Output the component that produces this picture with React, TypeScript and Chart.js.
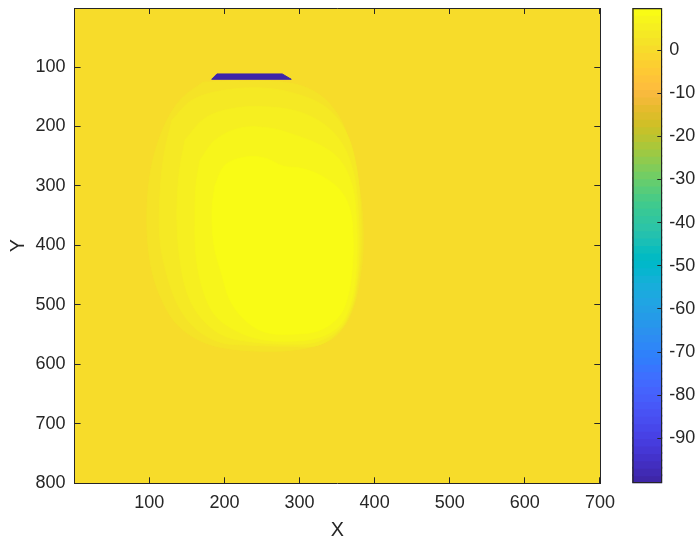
import React, { useEffect, useRef } from "react";
import { Chart, registerables } from "chart.js";

Chart.register(...registerables);

// ---------- axes ----------
const X_TICKS = [100, 200, 300, 400, 500, 600, 700];
const Y_TICKS = [100, 200, 300, 400, 500, 600, 700, 800];
const CB_TICKS = [-90, -80, -70, -60, -50, -40, -30, -20, -10, 0];
const X_RANGE = [0.5, 700.5];
const Y_RANGE = [0.5, 800.5];
const C_RANGE = [-100.4, 9.75];
const X_LABEL = "X";
const Y_LABEL = "Y";

// ---------- field values ----------
const BACKGROUND_VALUE = 0;
const FIELD_EXTENT: [number, number][] = [
  [0.5, 0.5], [700.5, 0.5], [700.5, 800.5], [0.5, 800.5], [0.5, 0.5],
];
// level values of the nested regions of the bright blob (outer -> inner)
const LEVEL_VALUES = [2, 3.7, 5.4, 7.1, 9];
const CONTOUR_L1: [number, number][] = [
  [171.5, 125.3], [220.8, 123.6], [287.4, 126.9], [327.3, 147.1], [353.9, 185.9],
  [367.3, 231.3], [376.6, 281.8], [383.3, 340.7], [384.6, 408.1], [379.3, 463.6],
  [372.6, 500.7], [360.6, 534.3], [340.6, 559.6], [300.7, 574.7], [247.4, 578.1],
  [194.1, 571.4], [160.9, 556.2], [134.2, 529.3], [116.9, 492.3], [104.9, 450.2],
  [98.3, 399.7], [96.9, 340.7], [100.9, 281.8], [110.3, 231.3], [124.9, 185.9],
  [143.5, 152.2],
];
const CONTOUR_L2: [number, number][] = [
  [130.2, 189.2], [156.9, 155.6], [200.8, 138.7], [254.1, 135.4], [300.7, 147.1],
  [336.6, 169.0], [360.6, 206.1], [373.9, 256.6], [380.6, 323.9], [381.9, 408.1],
  [376.6, 467.0], [369.9, 505.7], [353.9, 542.8], [324.6, 568.0], [280.7, 569.7],
  [234.1, 568.0], [194.1, 563.0], [160.9, 539.4], [138.2, 500.7], [123.6, 450.2],
  [114.2, 391.2], [114.2, 315.5], [119.6, 248.1],
];
const CONTOUR_L3: [number, number][] = [
  [147.5, 222.9], [174.2, 185.9], [214.1, 169.0], [260.7, 167.3], [300.7, 175.8],
  [334.0, 197.6], [357.9, 231.3], [372.6, 281.8], [377.9, 340.7], [379.3, 408.1],
  [375.3, 467.0], [367.3, 509.1], [351.3, 542.8], [320.7, 563.0], [280.7, 566.3],
  [240.8, 563.0], [200.8, 552.9], [171.5, 525.9], [151.5, 483.8], [140.9, 424.9],
  [136.9, 357.6], [139.5, 281.8],
];
const CONTOUR_L4: [number, number][] = [
  [167.5, 256.6], [187.5, 222.9], [220.8, 202.7], [260.7, 202.7], [294.0, 214.5],
  [327.3, 231.3], [353.9, 256.6], [369.9, 298.7], [375.3, 349.2], [376.6, 408.1],
  [373.9, 458.6], [367.3, 500.7], [353.9, 534.3], [327.3, 554.5], [287.4, 561.3],
  [247.4, 557.9], [214.1, 542.8], [187.5, 517.5], [171.5, 475.4], [162.2, 416.5],
  [160.9, 349.2], [162.2, 298.7],
];
const CONTOUR_L5: [number, number][] = [
  [187.5, 298.7], [200.8, 265.0], [227.4, 251.5], [254.1, 253.2], [278.1, 266.7],
  [300.7, 270.0], [327.3, 281.8], [353.9, 307.1], [367.3, 340.7], [371.3, 391.2],
  [369.9, 441.7], [364.6, 483.8], [353.9, 517.5], [327.3, 542.8], [287.4, 549.5],
  [254.1, 546.1], [227.4, 525.9], [207.5, 492.3], [196.8, 450.2], [186.2, 399.7],
  [183.5, 340.7],
];
const STRIP_VALUE = -100;
const STRIP: [number, number][] = [
  [190, 111.5], [277, 111.5], [289, 120.5], [183, 120.5],
];

// ---------- parula colormap (64 entries) ----------
const PARULA: number[][] = [
  [0.2422, 0.1504, 0.6603], [0.2504, 0.165, 0.7076], [0.2578, 0.1818, 0.7511], [0.2647, 0.1978, 0.7952],
  [0.2706, 0.2147, 0.8364], [0.2751, 0.2342, 0.871], [0.2783, 0.2559, 0.8991], [0.2803, 0.2782, 0.9221],
  [0.2813, 0.3006, 0.9414], [0.281, 0.3228, 0.9579], [0.2795, 0.3447, 0.9717], [0.276, 0.3667, 0.9829],
  [0.2699, 0.3892, 0.9906], [0.2602, 0.4123, 0.9952], [0.244, 0.4358, 0.9988], [0.2206, 0.4603, 0.9973],
  [0.1963, 0.4847, 0.9892], [0.1834, 0.5074, 0.9798], [0.1786, 0.5289, 0.9682], [0.1764, 0.5499, 0.952],
  [0.1687, 0.5703, 0.9359], [0.154, 0.5902, 0.9218], [0.146, 0.6091, 0.9079], [0.138, 0.6276, 0.8973],
  [0.1248, 0.6459, 0.8883], [0.1113, 0.6635, 0.8763], [0.0952, 0.6798, 0.8598], [0.0689, 0.6948, 0.8394],
  [0.0297, 0.7082, 0.8163], [0.0036, 0.7203, 0.7917], [0.0067, 0.7312, 0.766], [0.0433, 0.7411, 0.7394],
  [0.0964, 0.75, 0.712], [0.1408, 0.7584, 0.6842], [0.1717, 0.767, 0.6554], [0.1938, 0.7758, 0.6251],
  [0.2161, 0.7843, 0.5923], [0.247, 0.7918, 0.5567], [0.2906, 0.7973, 0.5188], [0.3406, 0.8008, 0.4789],
  [0.3909, 0.8029, 0.4354], [0.4456, 0.8024, 0.3909], [0.5044, 0.7993, 0.348], [0.5616, 0.7942, 0.3045],
  [0.6174, 0.7876, 0.2612], [0.672, 0.7793, 0.2227], [0.7242, 0.7698, 0.191], [0.7738, 0.7598, 0.1646],
  [0.8203, 0.7498, 0.1535], [0.8634, 0.7406, 0.1596], [0.9035, 0.733, 0.1774], [0.9393, 0.7288, 0.21],
  [0.9728, 0.7298, 0.2394], [0.9956, 0.7434, 0.2371], [0.997, 0.7659, 0.2199], [0.9952, 0.7893, 0.2028],
  [0.9892, 0.8136, 0.1885], [0.9786, 0.8386, 0.1766], [0.9676, 0.8639, 0.1643], [0.961, 0.889, 0.1537],
  [0.9597, 0.9135, 0.1423], [0.9628, 0.9373, 0.1265], [0.9691, 0.9606, 0.1064], [0.9769, 0.9839, 0.0805],
];

const rgbOf = (c: number[]) =>
  `rgb(${Math.round(c[0] * 255)},${Math.round(c[1] * 255)},${Math.round(c[2] * 255)})`;
const colorOf = (v: number) => {
  const n = PARULA.length;
  let i = Math.floor(((v - C_RANGE[0]) / (C_RANGE[1] - C_RANGE[0])) * n);
  i = Math.max(0, Math.min(n - 1, i));
  return rgbOf(PARULA[i]);
};

const FONT = "'Liberation Sans', Arial, Helvetica, sans-serif";
const INK = "#262626";

const W = 696;
const H = 541;
const AREA = { left: 74.6, right: 600.3, top: 8, bottom: 483.3 };
const CB_AREA = { left: 632.3, right: 662.3 };

const closed = (pts: [number, number][]) =>
  [...pts, pts[0]].map(([x, y]) => ({ x, y }));

function regionDataset(pts: [number, number][], value: number, order: number, tension: number, stroke: boolean) {
  const col = colorOf(value);
  return {
    data: closed(pts),
    fill: "shape",
    backgroundColor: col,
    borderColor: stroke ? col : "rgba(0,0,0,0)",
    borderWidth: 1,
    pointRadius: 0,
    pointHoverRadius: 0,
    tension,
    order,
  };
}

const noPad = (s: any) => {
  s.paddingTop = 0;
  s.paddingBottom = 0;
  s.paddingLeft = 0;
  s.paddingRight = 0;
};

export default function App() {
  const mainRef = useRef<HTMLCanvasElement | null>(null);
  const cbRef = useRef<HTMLCanvasElement | null>(null);

  useEffect(() => {
    if (!mainRef.current || !cbRef.current) return;
    Chart.defaults.font.family = FONT;

    const contours = [CONTOUR_L1, CONTOUR_L2, CONTOUR_L3, CONTOUR_L4, CONTOUR_L5];
    const datasets: any[] = [];
    datasets.push(regionDataset(STRIP, STRIP_VALUE, 0, 0, true));
    contours.forEach((c, i) => {
      datasets.push(regionDataset(c, LEVEL_VALUES[i], 5 - i, 0.35, true));
    });
    datasets.push(regionDataset(FIELD_EXTENT, BACKGROUND_VALUE, 10, 0, false));

    const tickFont = { family: FONT, size: 18 };
    const titleFont = { family: FONT, size: 19.8 };
    const grid = {
      display: true,
      drawOnChartArea: false,
      drawTicks: true,
      tickLength: -6,
      color: INK,
      lineWidth: 1,
      z: 1,
    };
    const border = { display: true, color: INK, width: 1, z: 1 };

    const main = new Chart(mainRef.current, {
      type: "line",
      data: { datasets },
      options: {
        animation: false,
        responsive: false,
        devicePixelRatio: 1,
        events: [],
        layout: { padding: { left: 0, top: AREA.top, right: W - AREA.right, bottom: 0 } },
        plugins: { legend: { display: false }, tooltip: { enabled: false } },
        scales: {
          x: {
            type: "linear",
            position: "bottom",
            min: X_RANGE[0],
            max: X_RANGE[1],
            grid,
            border,
            ticks: { color: INK, font: tickFont, padding: 15, autoSkip: false, maxRotation: 0 },
            title: { display: true, text: X_LABEL, color: INK, font: titleFont, padding: { top: 0, bottom: -1 } },
            afterBuildTicks: (s: any) => { s.ticks = X_TICKS.map((v) => ({ value: v })); },
            afterFit: (s: any) => { s.height = H - AREA.bottom; noPad(s); },
          },
          x2: {
            type: "linear",
            position: "top",
            min: X_RANGE[0],
            max: X_RANGE[1],
            grid,
            border,
            ticks: { display: false },
            afterBuildTicks: (s: any) => { s.ticks = X_TICKS.map((v) => ({ value: v })); },
            afterFit: (s: any) => { s.height = 0; noPad(s); },
          },
          y: {
            type: "linear",
            position: "left",
            reverse: true,
            min: Y_RANGE[0],
            max: Y_RANGE[1],
            grid,
            border,
            ticks: { color: INK, font: tickFont, padding: 15, autoSkip: false },
            title: { display: true, text: Y_LABEL, color: INK, font: titleFont, padding: { top: 6.6, bottom: 0 } },
            afterBuildTicks: (s: any) => { s.ticks = Y_TICKS.map((v) => ({ value: v })); },
            afterFit: (s: any) => { s.width = AREA.left; noPad(s); },
          },
          y2: {
            type: "linear",
            position: "right",
            reverse: true,
            min: Y_RANGE[0],
            max: Y_RANGE[1],
            grid,
            border,
            ticks: { display: false },
            afterBuildTicks: (s: any) => { s.ticks = Y_TICKS.map((v) => ({ value: v })); },
            afterFit: (s: any) => { s.width = 0; noPad(s); },
          },
        },
      } as any,
    });

    // colorbar
    const n = PARULA.length;
    const step = (C_RANGE[1] - C_RANGE[0]) / n;
    const cbSets: any[] = [
      {
        data: [[C_RANGE[0], C_RANGE[1]]],
        backgroundColor: "rgba(0,0,0,0)",
        borderColor: INK,
        borderWidth: 1,
        borderSkipped: false,
        grouped: false,
        barPercentage: 1,
        categoryPercentage: 1,
        order: 0,
      },
    ];
    for (let i = 0; i < n; i++) {
      const lo = C_RANGE[0] + i * step;
      const hi = i === n - 1 ? C_RANGE[1] : lo + step + 0.3;
      cbSets.push({
        data: [[lo, hi]],
        backgroundColor: rgbOf(PARULA[i]),
        borderWidth: 0,
        grouped: false,
        barPercentage: 1,
        categoryPercentage: 1,
        order: 1 + (n - i),
      });
    }

    const cb = new Chart(cbRef.current, {
      type: "bar",
      data: { labels: ["c"], datasets: cbSets },
      options: {
        animation: false,
        responsive: false,
        devicePixelRatio: 1,
        events: [],
        layout: { padding: { left: CB_AREA.left, top: AREA.top, right: 0, bottom: H - AREA.bottom } },
        plugins: { legend: { display: false }, tooltip: { enabled: false } },
        scales: {
          x: { type: "category", display: false },
          y: {
            type: "linear",
            position: "right",
            min: C_RANGE[0],
            max: C_RANGE[1],
            grid: { ...grid, tickLength: -5 },
            border: { display: false },
            ticks: { color: INK, font: tickFont, padding: 12, autoSkip: false },
            afterBuildTicks: (s: any) => { s.ticks = CB_TICKS.map((v) => ({ value: v })); },
            afterFit: (s: any) => { s.width = W - CB_AREA.right; noPad(s); },
          },
        },
      } as any,
    });

    return () => {
      main.destroy();
      cb.destroy();
    };
  }, []);

  return (
    <div style={{ position: "fixed", left: 0, top: 0, width: W, height: H, background: "#fff" }}>
      <canvas ref={mainRef} width={W} height={H} style={{ position: "absolute", left: 0, top: 0, width: W, height: H }} />
      <canvas ref={cbRef} width={W} height={H} style={{ position: "absolute", left: 0, top: 0, width: W, height: H }} />
    </div>
  );
}
